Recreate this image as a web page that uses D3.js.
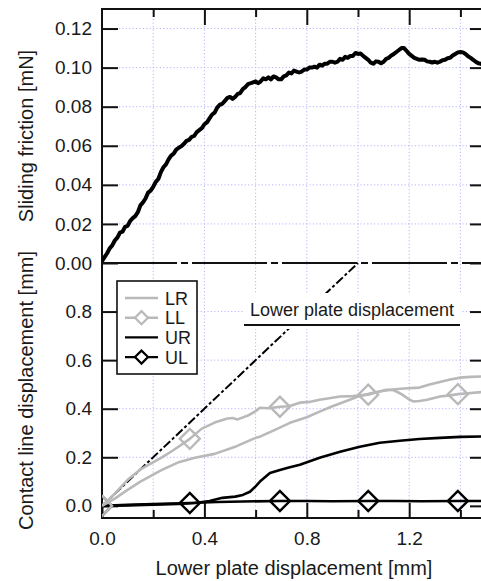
<!DOCTYPE html>
<html>
<head>
<meta charset="utf-8">
<script src="https://cdn.jsdelivr.net/npm/d3@7"></script>
<style>
    body { margin: 0; background: #fff; }
    svg { display: block; font-family: "Liberation Sans", Arial, sans-serif; }
    .grid line { stroke: #b4b4ff; stroke-width: 1; stroke-dasharray: 1.2,2.2; }
    .tick text { font-size: 19px; fill: #1a1a1a; }
    .tick line { stroke: #111; stroke-width: 2; }
</style>
</head>
<body>
<div id="chart"></div>
<script>

// sliding friction [mN] vs lower plate displacement [mm]
const frictionPts = [
    [0.00, 0.001], [0.01, 0.003], [0.02, 0.005], [0.03, 0.0075], [0.04, 0.009], [0.05, 0.0115],
    [0.06, 0.013], [0.07, 0.0155], [0.08, 0.016], [0.09, 0.0185], [0.10, 0.019], [0.11, 0.0215],
    [0.12, 0.023], [0.13, 0.024], [0.14, 0.026], [0.15, 0.0295], [0.16, 0.031], [0.17, 0.033],
    [0.18, 0.036], [0.19, 0.037], [0.20, 0.039], [0.21, 0.0415], [0.22, 0.043], [0.23, 0.0465],
    [0.24, 0.049], [0.25, 0.0505], [0.26, 0.053], [0.27, 0.055], [0.28, 0.056], [0.29, 0.058],
    [0.30, 0.059], [0.31, 0.0598], [0.32, 0.061], [0.33, 0.0625], [0.34, 0.063], [0.35, 0.0645],
    [0.36, 0.065], [0.37, 0.067], [0.38, 0.068], [0.39, 0.069], [0.40, 0.071], [0.41, 0.072],
    [0.42, 0.074], [0.43, 0.076], [0.44, 0.077], [0.45, 0.0795], [0.46, 0.081], [0.47, 0.0815],
    [0.48, 0.083], [0.49, 0.0845], [0.50, 0.085], [0.51, 0.084], [0.52, 0.085], [0.53, 0.0865],
    [0.54, 0.087], [0.55, 0.089], [0.56, 0.090], [0.57, 0.0915], [0.58, 0.092], [0.59, 0.0925],
    [0.60, 0.093], [0.61, 0.092], [0.62, 0.093], [0.63, 0.0945], [0.64, 0.094], [0.65, 0.095],
    [0.66, 0.094], [0.67, 0.0955], [0.68, 0.095], [0.69, 0.094], [0.70, 0.094], [0.71, 0.0955],
    [0.72, 0.096], [0.73, 0.0975], [0.74, 0.097], [0.75, 0.0985], [0.76, 0.098], [0.77, 0.0975],
    [0.78, 0.098], [0.79, 0.099], [0.80, 0.099], [0.81, 0.100], [0.82, 0.100], [0.83, 0.1005],
    [0.84, 0.100], [0.85, 0.1015], [0.86, 0.101], [0.87, 0.102], [0.88, 0.102], [0.89, 0.103],
    [0.90, 0.103], [0.91, 0.1025], [0.92, 0.103], [0.93, 0.1045], [0.94, 0.104], [0.95, 0.1055],
    [0.96, 0.105], [0.97, 0.106], [0.98, 0.106], [0.99, 0.1075], [1.00, 0.107], [1.01, 0.1072],
    [1.02, 0.106], [1.03, 0.105], [1.04, 0.104], [1.05, 0.1025], [1.06, 0.102], [1.07, 0.1032],
    [1.08, 0.103], [1.09, 0.1022], [1.10, 0.103], [1.11, 0.1045], [1.12, 0.105], [1.13, 0.1062],
    [1.14, 0.107], [1.15, 0.108], [1.16, 0.109], [1.17, 0.110], [1.18, 0.110], [1.19, 0.1085],
    [1.20, 0.107], [1.21, 0.106], [1.22, 0.105], [1.23, 0.1045], [1.24, 0.104], [1.25, 0.1042],
    [1.26, 0.104], [1.27, 0.1032], [1.28, 0.103], [1.29, 0.1026], [1.30, 0.103], [1.31, 0.1025],
    [1.32, 0.103], [1.33, 0.1038], [1.34, 0.104], [1.35, 0.1048], [1.36, 0.105], [1.37, 0.1062],
    [1.38, 0.107], [1.39, 0.1078], [1.40, 0.108], [1.41, 0.1078], [1.42, 0.107], [1.43, 0.1058],
    [1.44, 0.105], [1.45, 0.104], [1.46, 0.103], [1.47, 0.1022], [1.48, 0.102], [1.49, 0.101]
];

// contact line displacement [mm]
const lrPts = [
    [0, 0], [0.05, 0.03], [0.1, 0.066], [0.15, 0.1], [0.234, 0.148], [0.3, 0.18], [0.363, 0.198],
    [0.44, 0.214], [0.52, 0.243], [0.539, 0.252], [0.6, 0.28], [0.617, 0.285], [0.68, 0.315],
    [0.734, 0.342], [0.8, 0.365], [0.85, 0.388], [0.9, 0.41], [0.968, 0.437], [1.0, 0.45],
    [1.058, 0.466], [1.124, 0.478], [1.18, 0.483], [1.24, 0.487], [1.28, 0.5], [1.32, 0.51],
    [1.36, 0.52], [1.40, 0.528], [1.44, 0.531], [1.5, 0.533]
];
const llPts = [
    [0, 0], [0.05, 0.05], [0.1, 0.107], [0.15, 0.15], [0.234, 0.2], [0.28, 0.23], [0.343, 0.276],
    [0.39, 0.318], [0.44, 0.343], [0.49, 0.36], [0.51, 0.362], [0.53, 0.356], [0.57, 0.372],
    [0.6, 0.39], [0.617, 0.404], [0.65, 0.402], [0.695, 0.408], [0.73, 0.41], [0.773, 0.425],
    [0.81, 0.428], [0.85, 0.437], [0.9, 0.445], [0.93, 0.45], [0.98, 0.452], [1.04, 0.458],
    [1.08, 0.47], [1.11, 0.478], [1.14, 0.476], [1.17, 0.46], [1.2, 0.438], [1.215, 0.43],
    [1.24, 0.432], [1.27, 0.437], [1.32, 0.45], [1.36, 0.455], [1.39, 0.46], [1.43, 0.464], [1.5, 0.47]
];
const urPts = [
    [0, 0], [0.1, 0.002], [0.2, 0.005], [0.3, 0.008], [0.363, 0.012], [0.42, 0.02], [0.47, 0.033],
    [0.52, 0.038], [0.55, 0.045], [0.578, 0.058], [0.6, 0.08], [0.617, 0.1], [0.656, 0.135],
    [0.695, 0.148], [0.73, 0.158], [0.773, 0.169], [0.85, 0.198], [0.93, 0.223], [1.007, 0.243],
    [1.085, 0.26], [1.163, 0.268], [1.24, 0.275], [1.32, 0.28], [1.4, 0.284], [1.5, 0.286]
];
const ulPts = [
    [0, 0], [0.1, 0.004], [0.2, 0.007], [0.343, 0.012], [0.45, 0.016], [0.55, 0.018], [0.695, 0.02],
    [0.8, 0.02], [0.9, 0.019], [1.04, 0.02], [1.15, 0.02], [1.25, 0.019], [1.39, 0.02], [1.5, 0.02]
];
const llMarkers = [[0, 0], [0.343, 0.276], [0.695, 0.408], [1.04, 0.458], [1.39, 0.46]];
const ulMarkers = [[0, 0], [0.343, 0.012], [0.695, 0.02], [1.04, 0.02], [1.39, 0.02]];
const lowerPlatePts = [[0, 0], [1.0, 1.0]];

const legendNames = ["LR", "LL", "UR", "UL"];
const xTicks = [0, 0.4, 0.8, 1.2];
const xMinor = [0.2, 0.6, 1.0, 1.4];
const frictionTicks = [0, 0.02, 0.04, 0.06, 0.08, 0.10, 0.12];
const contactTicks = [0, 0.2, 0.4, 0.6, 0.8];

const width = 481, height = 581;
// plot edges (right edge sits just past the window)
const edgeL = 102, edgeR = 486, edgeT = 9, edgeM = 263, edgeB = 518;
const gray = "#b9b9b9";
const ink = "#1a1a1a";

const svg = d3.select("#chart").append("svg")
    .attr("width", width)
    .attr("height", height);

const x = d3.scaleLinear().domain([0, 1.5]).range([edgeL, edgeR]);
const yTop = d3.scaleLinear().domain([0, 0.13]).range([edgeM, edgeT]);
const yBot = d3.scaleLinear().domain([-0.05, 1.0]).range([edgeB, edgeM]);

svg.append("clipPath").attr("id", "plot-clip")
    .append("rect").attr("x", edgeL).attr("y", edgeT).attr("width", edgeR - edgeL).attr("height", edgeB - edgeT);

// grid
const grid = svg.append("g").attr("class", "grid");
grid.selectAll(".vx").data(xTicks.concat(xMinor).filter(d => d > 0))
    .enter().append("line")
    .attr("x1", d => x(d)).attr("x2", d => x(d))
    .attr("y1", edgeT).attr("y2", edgeB);
grid.selectAll(".hy1").data(frictionTicks.filter(d => d > 0))
    .enter().append("line")
    .attr("x1", edgeL).attr("x2", edgeR)
    .attr("y1", d => yTop(d)).attr("y2", d => yTop(d));
grid.selectAll(".hy2").data(contactTicks.filter(d => d > 0))
    .enter().append("line")
    .attr("x1", edgeL).attr("x2", edgeR)
    .attr("y1", d => yBot(d)).attr("y2", d => yBot(d));

// axes (ticks point inward)
const noLabel = () => "";
svg.append("g").attr("transform", `translate(${edgeL},0)`)
    .call(d3.axisLeft(yTop).tickValues(frictionTicks).tickSize(-16).tickPadding(10).tickFormat(d3.format(".2f")));
svg.append("g").attr("transform", `translate(${edgeR},0)`)
    .call(d3.axisRight(yTop).tickValues(frictionTicks).tickSize(-16).tickFormat(noLabel));
svg.append("g").attr("transform", `translate(${edgeL},0)`)
    .call(d3.axisLeft(yBot).tickValues(contactTicks).tickSize(-16).tickPadding(10).tickFormat(d3.format(".1f")));
svg.append("g").attr("transform", `translate(${edgeR},0)`)
    .call(d3.axisRight(yBot).tickValues(contactTicks).tickSize(-16).tickFormat(noLabel));

svg.append("g").attr("transform", `translate(0,${edgeB})`)
    .call(d3.axisBottom(x).tickValues(xTicks).tickSize(-15).tickPadding(14).tickFormat(d3.format(".1f")));
svg.append("g").attr("transform", `translate(0,${edgeB})`)
    .call(d3.axisBottom(x).tickValues(xMinor).tickSize(-8).tickFormat(noLabel));
svg.append("g").attr("transform", `translate(0,${edgeT})`)
    .call(d3.axisTop(x).tickValues(xTicks.filter(d => d > 0)).tickSize(-16).tickFormat(noLabel));
svg.append("g").attr("transform", `translate(0,${edgeT})`)
    .call(d3.axisTop(x).tickValues(xMinor).tickSize(-8).tickFormat(noLabel));

svg.selectAll(".domain").remove();
svg.selectAll(".tick text").attr("fill", ink);

// frame
const frame = svg.append("g").attr("stroke", "#111").attr("stroke-width", 2).attr("fill", "none");
frame.append("line").attr("x1", edgeL).attr("x2", edgeL).attr("y1", edgeT - 1).attr("y2", edgeB + 1);
frame.append("line").attr("x1", edgeL).attr("x2", edgeR).attr("y1", edgeT).attr("y2", edgeT);
frame.append("line").attr("x1", edgeL).attr("x2", edgeR).attr("y1", edgeB).attr("y2", edgeB);
frame.append("line").attr("x1", edgeL).attr("x2", edgeR).attr("y1", edgeM).attr("y2", edgeM)
    .attr("stroke-dasharray", "75,4,7,4");

const plot = svg.append("g").attr("clip-path", "url(#plot-clip)");

const lineTop = d3.line().x(d => x(d[0])).y(d => yTop(d[1]));
const lineBot = d3.line().x(d => x(d[0])).y(d => yBot(d[1]));

plot.append("path").datum(frictionPts)
    .attr("d", lineTop)
    .attr("fill", "none").attr("stroke", "#000").attr("stroke-width", 4)
    .attr("stroke-linejoin", "round");

plot.append("path").datum(lowerPlatePts)
    .attr("d", lineBot)
    .attr("fill", "none").attr("stroke", "#000").attr("stroke-width", 2)
    .attr("stroke-dasharray", "9,2.5,3,2.5");

const diamond = d3.symbol().type(d3.symbolSquare);

function drawSeries(pts, color, w) {
    plot.append("path").datum(pts)
        .attr("d", lineBot)
        .attr("fill", "none").attr("stroke", color).attr("stroke-width", w)
        .attr("stroke-linejoin", "round");
}
function drawMarkers(pts, color, size) {
    plot.selectAll(null).data(pts)
        .enter().append("path")
        .attr("d", diamond.size(size)())
        .attr("transform", d => `translate(${x(d[0])},${yBot(d[1])}) rotate(45)`)
        .attr("fill", "none").attr("stroke", color).attr("stroke-width", 2.4);
}

drawSeries(ulPts, "#000", 2.6);
drawSeries(urPts, "#000", 2.6);
drawMarkers(ulMarkers, "#000", 200);
drawSeries(lrPts, gray, 2.6);
drawSeries(llPts, gray, 2.6);
drawMarkers(llMarkers, gray, 200);

// annotation
const note = svg.append("g");
note.append("rect")
    .attr("x", 244).attr("y", 293).attr("width", 217).attr("height", 36)
    .attr("fill", "#fff");
note.append("text")
    .attr("x", 352).attr("y", 316)
    .attr("text-anchor", "middle")
    .attr("font-size", 18).attr("fill", ink)
    .text("Lower plate displacement");
note.append("line")
    .attr("x1", 244).attr("x2", 460).attr("y1", 325).attr("y2", 325)
    .attr("stroke", "#111").attr("stroke-width", 2);

// legend
const legend = svg.append("g").attr("transform", "translate(117,281)");
legend.append("rect")
    .attr("width", 80).attr("height", 93)
    .attr("fill", "#fff").attr("stroke", "#111").attr("stroke-width", 1.6);
const legendColors = [gray, gray, "#000", "#000"];
const legendMarks = [false, true, false, true];
const rows = legend.selectAll(".row").data(legendNames)
    .enter().append("g")
    .attr("transform", (d, i) => `translate(0,${17 + i * 19.7})`);
rows.append("line")
    .attr("x1", 8).attr("x2", 41)
    .attr("stroke", (d, i) => legendColors[i]).attr("stroke-width", 2.4);
rows.filter((d, i) => legendMarks[i]).append("path")
    .attr("d", diamond.size(85)())
    .attr("transform", "translate(24.5,0) rotate(45)")
    .attr("fill", "#fff")
    .attr("stroke", d => legendColors[legendNames.indexOf(d)]).attr("stroke-width", 2.2);
rows.append("text")
    .attr("x", 48).attr("y", 6.5)
    .attr("font-size", 18).attr("fill", ink)
    .text(d => d);

// axis titles
svg.append("text")
    .attr("transform", `translate(33,${(edgeT + edgeM) / 2}) rotate(-90)`)
    .attr("text-anchor", "middle").attr("font-size", 20).attr("fill", ink)
    .text("Sliding friction [mN]");
svg.append("text")
    .attr("transform", `translate(33,${(edgeM + edgeB) / 2}) rotate(-90)`)
    .attr("text-anchor", "middle").attr("font-size", 20).attr("fill", ink)
    .text("Contact line displacement [mm]");
svg.append("text")
    .attr("x", (edgeL + edgeR) / 2).attr("y", 575)
    .attr("text-anchor", "middle").attr("font-size", 20).attr("fill", ink)
    .text("Lower plate displacement [mm]");

</script>
</body>
</html>
